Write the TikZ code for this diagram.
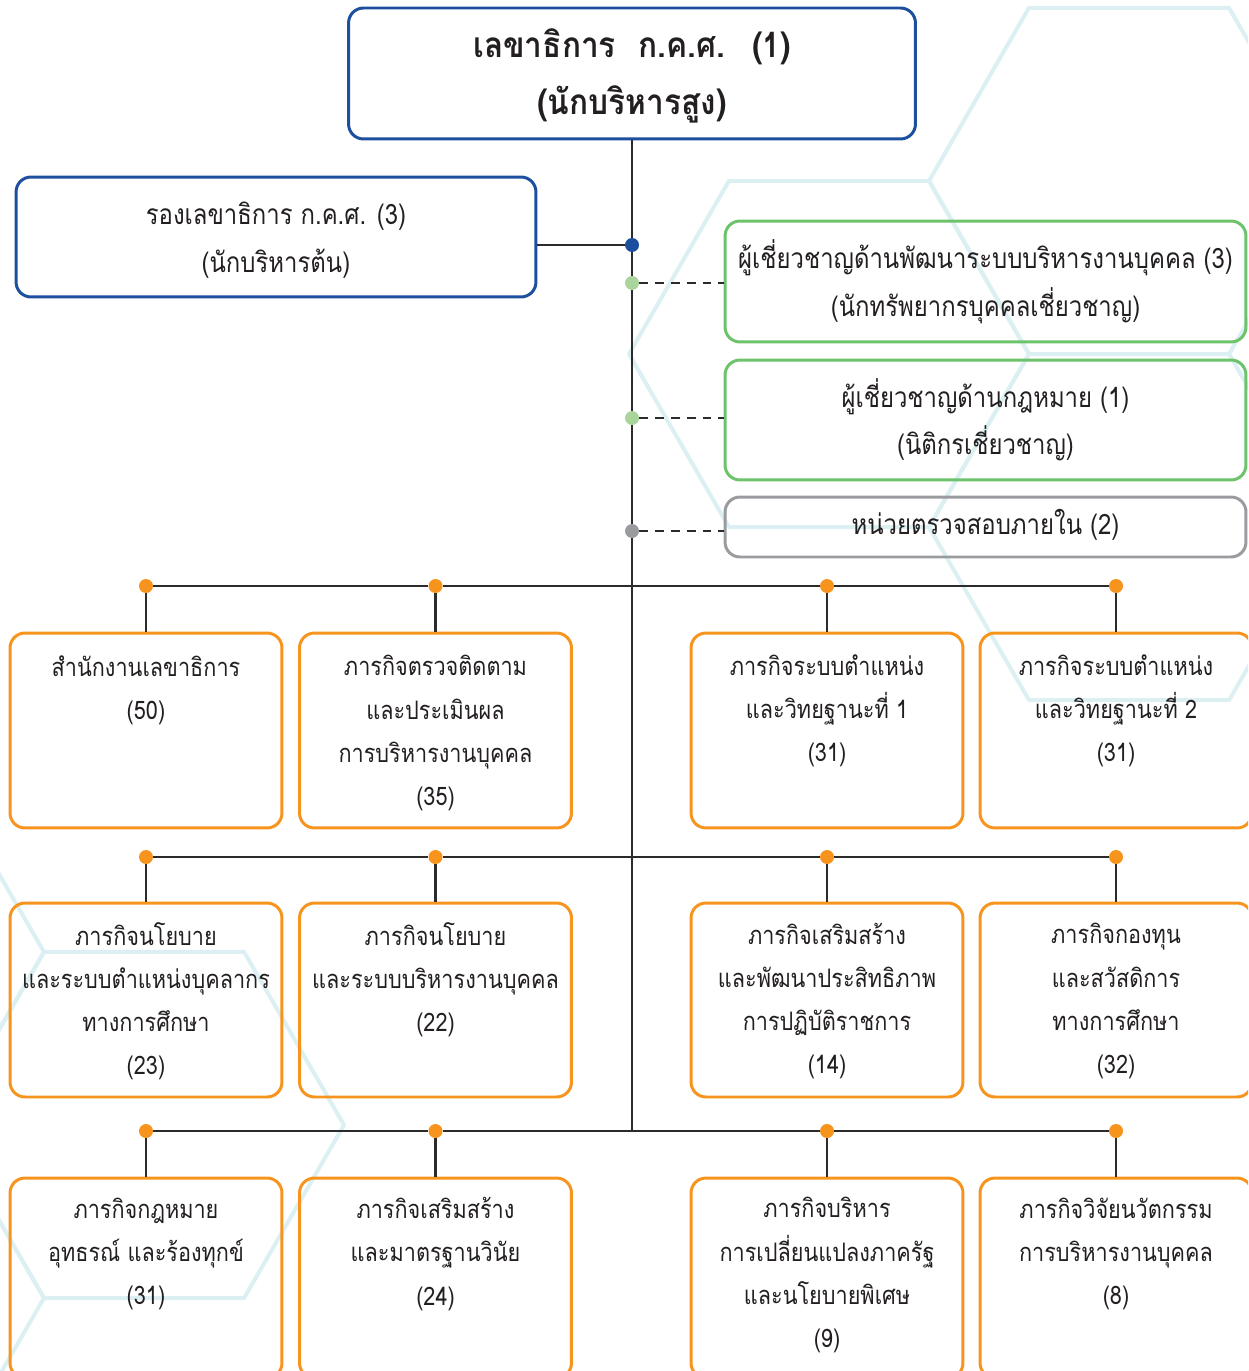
\documentclass[tikz,border=0pt]{standalone}
\usepackage{fontspec}
\newfontfamily\thaifont[Script=Thai, FakeStretch=0.85]{Loma}
\newfontfamily\thaibold[Script=Thai, FakeStretch=0.9]{Loma Bold}
\usetikzlibrary{positioning}
\definecolor{kblue}{HTML}{1D4F9F}
\definecolor{kgreen}{HTML}{6CC36A}
\definecolor{kgreendot}{HTML}{A9D59C}
\definecolor{kgrey}{HTML}{9A9B9F}
\definecolor{korange}{HTML}{F7941D}
\definecolor{kline}{HTML}{2B2B2B}
\definecolor{khex}{HTML}{DCF0F4}
\definecolor{ktext}{HTML}{231F20}
\tikzset{
	hexline/.style={draw=khex, line width=2.3pt, line join=round},
	bluebox/.style={draw=kblue, line width=1.7pt, rounded corners=8.5pt, inner sep=0pt},
	greenbox/.style={draw=kgreen, line width=1.7pt, rounded corners=8.5pt, inner sep=0pt, minimum width=10.42cm},
	greybox/.style={draw=kgrey, line width=1.7pt, rounded corners=8.5pt, inner sep=0pt, minimum width=10.42cm},
	obox/.style={draw=korange, line width=1.7pt, rounded corners=8.5pt, inner sep=0pt, minimum width=5.44cm},
	toptext/.style={text=ktext, align=center, font=\thaibold\fontsize{20pt}{32.4pt}\selectfont},
	sidetext/.style={text=ktext, align=center, font=\thaifont\fontsize{16pt}{27pt}\selectfont},
	rtext/.style={text=ktext, align=center, font=\thaifont\fontsize{14.5pt}{24.5pt}\selectfont},
	dotnode/.style={circle, inner sep=0pt, minimum size=0.28cm},
	link/.style={draw=kline, line width=1.3pt},
	dlink/.style={draw=kline, line width=1.1pt, dash pattern=on 5pt off 4pt}
}
\begin{document}
\begin{tikzpicture}[x=0.02cm,y=-0.02cm]
	\useasboundingbox (0,0) rectangle (1248,1371);
	\clip (0,0) rectangle (1248,1371);
	% background hexagons
	\draw[hexline] (1129,181) +(0:200) -- +(60:200) -- +(120:200) -- +(180:200) -- +(240:200) -- +(300:200) -- cycle;
	\draw[hexline] (829,354) +(0:200) -- +(60:200) -- +(120:200) -- +(180:200) -- +(240:200) -- +(300:200) -- cycle;
	\draw[hexline] (1129,527) +(0:200) -- +(60:200) -- +(120:200) -- +(180:200) -- +(240:200) -- +(300:200) -- cycle;
	\draw[hexline] (144,1125) +(0:200) -- +(60:200) -- +(120:200) -- +(180:200) -- +(240:200) -- +(300:200) -- cycle;
	\draw[hexline] (-156,952) +(0:200) -- +(60:200) -- +(120:200) -- +(180:200) -- +(240:200) -- +(300:200) -- cycle;
	\draw[hexline] (-156,1298) +(0:200) -- +(60:200) -- +(120:200) -- +(180:200) -- +(240:200) -- +(300:200) -- cycle;

	% head and staff
	\node[bluebox, minimum width=11.34cm, minimum height=2.62cm] (sec) at (632,73.5) {};
	\node[toptext] (sectxt) at (632,75.5) {เลขาธิการ\hspace{0.35em} ก.ค.ศ.\hspace{0.35em} (1)\\(นักบริหารสูง)};
	\node[bluebox, minimum width=10.4cm, minimum height=2.4cm] (dep) at (276,237) {};
	\node[sidetext] (deptxt) at (276,240) {รองเลขาธิการ ก.ค.ศ. (3)\\(นักบริหารต้น)};
	\node[greenbox, minimum height=2.42cm] (exp1) at (985.5,281.5) {};
	\node[sidetext] (exp1txt) at (985.5,281.5) {ผู้เชี่ยวชาญด้านพัฒนาระบบบริหารงานบุคคล (3)\\(นักทรัพยากรบุคคลเชี่ยวชาญ)};
	\node[greenbox, minimum height=2.4cm] (exp2) at (985.5,420) {};
	\node[sidetext] (exp2txt) at (985.5,419.5) {ผู้เชี่ยวชาญด้านกฎหมาย (1)\\(นิติกรเชี่ยวชาญ)};
	\node[greybox, minimum height=1.2cm] (aud) at (985.5,527) {};
	\node[sidetext] (audtxt) at (985.5,525) {หน่วยตรวจสอบภายใน (2)};

	\node[dotnode, fill=kblue] (bd) at (632,245) {};
	\node[dotnode, fill=kgreendot] (gd1) at (632,283) {};
	\node[dotnode, fill=kgreendot] (gd2) at (632,418) {};
	\node[dotnode, fill=kgrey] (ad) at (632,531) {};
	\coordinate (j3) at (632,1131);

	% row 1
	\node[obox, minimum height=3.9cm] (u11) at (146,730.5) {};
	\node[obox, minimum height=3.9cm] (u12) at (435.5,730.5) {};
	\node[obox, minimum height=3.9cm] (u13) at (827,730.5) {};
	\node[obox, minimum height=3.9cm] (u14) at (1116,730.5) {};
	\node[rtext] (t11) at (146,690) {สำนักงานเลขาธิการ\\(50)};
	\node[rtext] (t12) at (435.5,733) {ภารกิจตรวจติดตาม\\และประเมินผล\\การบริหารงานบุคคล\\(35)};
	\node[rtext] (t13) at (827,711) {ภารกิจระบบตำแหน่ง\\และวิทยฐานะที่ 1\\(31)};
	\node[rtext] (t14) at (1116,711) {ภารกิจระบบตำแหน่ง\\และวิทยฐานะที่ 2\\(31)};
	\node[dotnode, fill=korange] (d11) at (146,586) {};
	\node[dotnode, fill=korange] (d12) at (435.5,586) {};
	\node[dotnode, fill=korange] (d13) at (827,586) {};
	\node[dotnode, fill=korange] (d14) at (1116,586) {};

	% row 2
	\node[obox, minimum height=3.88cm] (u21) at (146,1000) {};
	\node[obox, minimum height=3.88cm] (u22) at (435.5,1000) {};
	\node[obox, minimum height=3.88cm] (u23) at (827,1000) {};
	\node[obox, minimum height=3.88cm] (u24) at (1116,1000) {};
	\node[rtext] (t21) at (146,1001) {ภารกิจนโยบาย\\และระบบตำแหน่งบุคลากร\\ทางการศึกษา\\(23)};
	\node[rtext] (t22) at (435.5,980) {ภารกิจนโยบาย\\และระบบบริหารงานบุคคล\\(22)};
	\node[rtext] (t23) at (827,1001) {ภารกิจเสริมสร้าง\\และพัฒนาประสิทธิภาพ\\การปฏิบัติราชการ\\(14)};
	\node[rtext] (t24) at (1116,1001) {ภารกิจกองทุน\\และสวัสดิการ\\ทางการศึกษา\\(32)};
	\node[dotnode, fill=korange] (d21) at (146,857) {};
	\node[dotnode, fill=korange] (d22) at (435.5,857) {};
	\node[dotnode, fill=korange] (d23) at (827,857) {};
	\node[dotnode, fill=korange] (d24) at (1116,857) {};

	% row 3
	\node[obox, minimum height=4cm] (u31) at (146,1278) {};
	\node[obox, minimum height=4cm] (u32) at (435.5,1278) {};
	\node[obox, minimum height=4cm] (u33) at (827,1278) {};
	\node[obox, minimum height=4cm] (u34) at (1116,1278) {};
	\node[rtext] (t31) at (146,1254) {ภารกิจกฎหมาย\\อุทธรณ์ และร้องทุกข์\\(31)};
	\node[rtext] (t32) at (435.5,1254) {ภารกิจเสริมสร้าง\\และมาตรฐานวินัย\\(24)};
	\node[rtext] (t33) at (827,1275) {ภารกิจบริหาร\\การเปลี่ยนแปลงภาครัฐ\\และนโยบายพิเศษ\\(9)};
	\node[rtext] (t34) at (1116,1254) {ภารกิจวิจัยนวัตกรรม\\การบริหารงานบุคคล\\(8)};
	\node[dotnode, fill=korange] (d31) at (146,1131) {};
	\node[dotnode, fill=korange] (d32) at (435.5,1131) {};
	\node[dotnode, fill=korange] (d33) at (827,1131) {};
	\node[dotnode, fill=korange] (d34) at (1116,1131) {};

	% connectors
	\draw[link] (sec) -- (bd) -- (gd1) -- (gd2) -- (ad) -- (j3);
	\draw[link] (bd) -- (bd -| dep.east);
	\draw[dlink] (gd1) -- (gd1 -| exp1.west);
	\draw[dlink] (gd2) -- (gd2 -| exp2.west);
	\draw[dlink] (ad) -- (ad -| aud.west);
	\draw[link] (d11) -- (d12) -- (d13) -- (d14);
	\draw[link] (d21) -- (d22) -- (d23) -- (d24);
	\draw[link] (d31) -- (d32) -- (d33) -- (d34);
	\draw[link] (d11) -- (u11);
	\draw[link] (d12) -- (u12);
	\draw[link] (d13) -- (u13);
	\draw[link] (d14) -- (u14);
	\draw[link] (d21) -- (u21);
	\draw[link] (d22) -- (u22);
	\draw[link] (d23) -- (u23);
	\draw[link] (d24) -- (u24);
	\draw[link] (d31) -- (u31);
	\draw[link] (d32) -- (u32);
	\draw[link] (d33) -- (u33);
	\draw[link] (d34) -- (u34);
\end{tikzpicture}
\end{document}
